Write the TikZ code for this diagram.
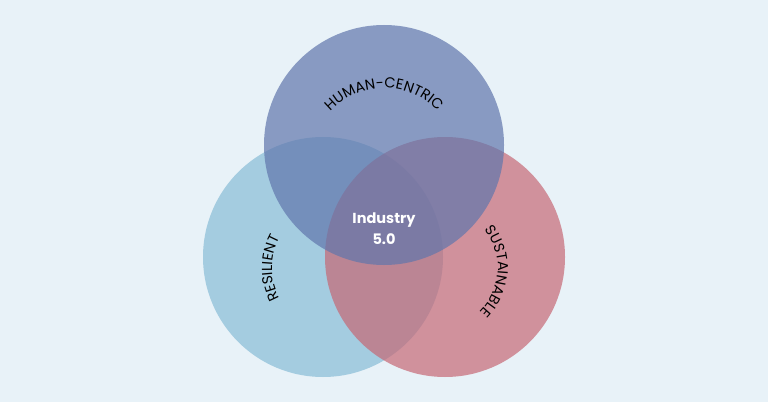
\documentclass[tikz,border=0pt]{standalone}
\usepackage{fontspec}
\setmainfont{Poppins}
\usetikzlibrary{decorations.text}
\definecolor{bg}{RGB}{232,242,248}
\definecolor{cl}{RGB}{164,204,224}
\definecolor{cr}{RGB}{198,104,117}
\definecolor{ct}{RGB}{96,118,172}
\tikzset{lab/.style={decorate,decoration={text along path,text align=center,text={#1}}}}
\begin{document}
\begin{tikzpicture}[x=1pt,y=1pt]
\fill[bg] (0,0) rectangle (768,402);
\useasboundingbox (0,0) rectangle (768,402);
\fill[cl] (323,145) circle (120);
\fill[cr,fill opacity=.7] (445,145) circle (120);
\fill[ct,fill opacity=.7] (384,257) circle (120);
\coordinate (ct) at (384,240);
\coordinate (cl) at (334,134);
\coordinate (cr) at (436,134);
\path[lab={|\fontsize{14.5}{14.5}\selectfont|HUMAN-CENTRIC}] ([shift={(150:74)}]ct) arc[start angle=150,end angle=30,radius=74];
\path[lab={|\fontsize{14.5}{14.5}\selectfont|RESILIENT}] ([shift={(222:62)}]cl) arc[start angle=222,end angle=138,radius=62];
\path[lab={|\fontsize{14.5}{14.5}\selectfont|SUSTAINABLE}] ([shift={(48:62)}]cr) arc[start angle=48,end angle=-55,radius=62];
\node[text=white,font=\fontsize{14.5}{21}\selectfont\bfseries,align=center] (ind) at (384,173) {Industry\\5.0};
\end{tikzpicture}
\end{document}
